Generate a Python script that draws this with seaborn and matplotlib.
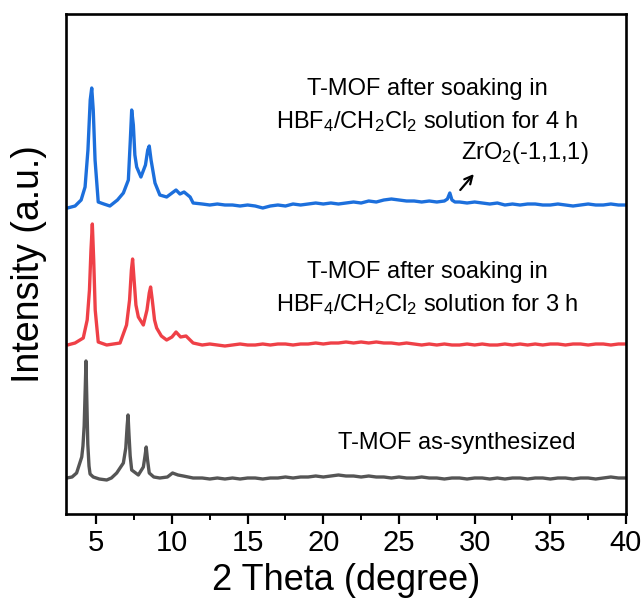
import numpy as np
import pandas as pd
import matplotlib
matplotlib.use("Agg")
import matplotlib.pyplot as plt
import seaborn as sns

# ---------------- data ----------------
# As-synthesized T-MOF (grey)
x_asyn = [3.05, 3.4, 3.7, 4.04, 4.12, 4.20, 4.27, 4.32, 4.37, 4.44, 4.52, 4.59, 4.8, 5.2, 5.69,
          6.0, 6.35, 6.79, 6.95, 7.04, 7.10, 7.16, 7.24, 7.34, 7.78, 8.11, 8.22, 8.30, 8.38, 8.50,
          8.8, 9.2, 9.7, 10.04, 10.4, 10.75, 11.4,
          12.0, 12.5, 13.0, 13.5, 14.0, 14.5, 15.0, 15.5, 16.0, 16.5, 17.0, 17.5, 18.0, 18.5,
          19.0, 19.5, 20.0, 20.5, 21.0, 21.5, 22.0, 22.5, 23.0, 23.5, 24.0, 24.5, 25.0, 25.5,
          26.0, 26.5, 27.0, 27.5, 28.0, 28.5, 29.0, 29.5, 30.0, 30.5, 31.0, 31.5, 32.0, 32.5,
          33.0, 33.5, 34.0, 34.5, 35.0, 35.5, 36.0, 36.5, 37.0, 37.5, 38.0, 38.5, 39.0, 39.5, 40.0]
y_asyn = [36, 37, 41, 57, 68, 88, 125, 153, 118, 70, 48, 40, 37, 35, 34,
          36, 41, 51, 66, 88, 99, 80, 58, 44, 39, 47, 58, 67, 55, 41,
          37, 36, 37, 41, 39, 38, 36,
          36, 35, 36, 35, 36, 35, 36, 36, 35, 36, 36, 37, 36, 37,
          37, 38, 37, 38, 39, 38, 38, 37, 38, 37, 37, 36, 37, 36,
          36, 37, 36, 36, 35, 36, 36, 35, 36, 36, 35, 36, 35, 36,
          36, 35, 36, 36, 35, 36, 36, 35, 36, 36, 35, 36, 37, 36, 36]

# After soaking 3 h (red)
x_3h = [3.1, 3.6, 4.14, 4.40, 4.55, 4.65, 4.74, 4.83, 4.93, 5.13, 5.69, 6.57, 7.0, 7.2, 7.32,
        7.40, 7.5, 7.62, 7.78, 8.11, 8.35, 8.50, 8.59, 8.70, 8.85, 8.99, 9.3, 9.65, 10.0, 10.27,
        10.57, 10.93, 11.4,
        12.0, 12.5, 13.0, 13.5, 14.0, 14.5, 15.0, 15.5, 16.0, 16.5, 17.0, 17.5, 18.0, 18.5,
        19.0, 19.5, 20.0, 20.5, 21.0, 21.5, 22.0, 22.5, 23.0, 23.5, 24.0, 24.5, 25.0, 25.5,
        26.0, 26.5, 27.0, 27.5, 28.0, 28.5, 29.0, 29.5, 30.0, 30.5, 31.0, 31.5, 32.0, 32.5,
        33.0, 33.5, 34.0, 34.5, 35.0, 35.5, 36.0, 36.5, 37.0, 37.5, 38.0, 38.5, 39.0, 39.5, 40.0]
y_3h = [34, 36, 41, 59, 89, 129, 155, 119, 69, 37, 34, 36, 54, 79, 109,
        120, 99, 74, 62, 54, 69, 86, 92, 79, 59, 51, 43, 39, 42, 47,
        42, 43, 36,
        34, 35, 34, 33, 34, 35, 34, 34, 35, 34, 35, 35, 34, 35,
        35, 36, 35, 36, 36, 37, 36, 37, 36, 37, 36, 36, 35, 36,
        35, 34, 35, 34, 35, 34, 34, 35, 34, 35, 34, 34, 35, 34,
        35, 34, 35, 34, 35, 35, 34, 35, 35, 34, 35, 35, 34, 35, 35]

# After soaking 4 h (blue)
x_4h = [3.1, 3.6, 4.0, 4.26, 4.45, 4.60, 4.70, 4.80, 4.92, 5.13, 5.5, 5.9, 6.4, 6.79, 7.12,
        7.25, 7.34, 7.45, 7.55, 7.67, 7.95, 8.25, 8.40, 8.50, 8.62, 8.88, 9.2, 9.65, 10.27, 10.53,
        10.8, 11.2, 11.4,
        12.0, 12.5, 13.0, 13.5, 14.0, 14.5, 15.0, 15.5, 16.0, 16.5, 17.0, 17.5, 18.0, 18.5,
        19.0, 19.5, 20.0, 20.5, 21.0, 21.5, 22.0, 22.5, 23.0, 23.5, 24.0, 24.5, 25.0, 25.5,
        26.0, 26.5, 27.0, 27.5, 28.0, 28.2, 28.36, 28.5, 28.7, 29.0, 29.5, 30.0, 30.5, 31.0,
        31.5, 32.0, 32.5, 33.0, 33.5, 34.0, 34.5, 35.0, 35.5, 36.0, 36.5, 37.0, 37.5, 38.0,
        38.5, 39.0, 39.5, 40.0]
y_4h = [31, 33, 39, 52, 89, 139, 151, 129, 79, 37, 35, 33, 39, 46, 59,
        99, 129, 114, 84, 72, 62, 74, 89, 93, 79, 56, 44, 42, 49, 45,
        47, 42, 36,
        35, 34, 35, 34, 34, 33, 34, 33, 31, 33, 34, 33, 35, 34,
        35, 36, 35, 36, 35, 36, 37, 36, 38, 37, 39, 40, 39, 38,
        38, 37, 38, 37, 38, 40, 46, 39, 37, 37, 36, 37, 36, 35,
        36, 34, 35, 34, 35, 35, 34, 34, 35, 34, 33, 34, 35, 34,
        34, 35, 34, 34]

names = ["as-synthesized", "3 h", "4 h"]
offsets = [0, 135, 275]
colors = ["#555555", "#ef4047", "#1c6fdc"]

labels_text = ["T-MOF as-synthesized",
               "T-MOF after soaking in\nHBF$_4$/CH$_2$Cl$_2$ solution for 3 h",
               "T-MOF after soaking in\nHBF$_4$/CH$_2$Cl$_2$ solution for 4 h"]
xticks = [5, 10, 15, 20, 25, 30, 35, 40]

# ---------------- style ----------------
sns.set_theme(style="ticks")
plt.rcParams["font.family"] = ["Liberation Sans", "DejaVu Sans"]
plt.rcParams["mathtext.fontset"] = "custom"
plt.rcParams["mathtext.rm"] = "Liberation Sans"
plt.rcParams["mathtext.it"] = "Liberation Sans:italic"
plt.rcParams["mathtext.bf"] = "Liberation Sans:bold"
for k in ["text.color", "axes.labelcolor", "xtick.color", "ytick.color", "axes.edgecolor"]:
    plt.rcParams[k] = "black"

frames = []
for nm, xs, ys, off in zip(names, [x_asyn, x_3h, x_4h], [y_asyn, y_3h, y_4h], offsets):
    frames.append(pd.DataFrame({"two_theta": xs,
                                "intensity": np.asarray(ys, float) + off,
                                "sample": nm}))
df = pd.concat(frames, ignore_index=True)

fig = plt.figure(figsize=(6.44, 6.01), dpi=100)
ax = fig.add_axes([66 / 644, 1 - 514 / 601, 560 / 644, 500 / 601])

sns.lineplot(data=df, x="two_theta", y="intensity", hue="sample",
             palette=dict(zip(names, colors)), estimator=None, sort=False,
             linewidth=2.4, legend=False, ax=ax)

ax.set_xlim(3, 40)
ax.set_ylim(0, 500)
ax.set_xticks(xticks)
ax.set_xticks(np.arange(7.5, 40, 5), minor=True)
ax.set_yticks([])
ax.tick_params(axis="x", which="major", direction="out", length=7, width=1.6,
               labelsize=21, pad=4, bottom=True, top=False, colors="black")
ax.tick_params(axis="x", which="minor", direction="out", length=4, width=1.4,
               bottom=True, top=False, colors="black")
for sp in ax.spines.values():
    sp.set_linewidth(1.9)
    sp.set_color("black")

ax.set_xlabel("2 Theta (degree)", fontsize=26, labelpad=4, color="black")
ax.set_ylabel("Intensity (a.u.)", fontsize=27, labelpad=14, color="black")

# annotations
ax.text(28.83, 71, labels_text[0], ha="center", va="center", fontsize=17, color="black")
ax.text(26.9, 225, labels_text[1], ha="center", va="center", fontsize=17,
        linespacing=1.45, color="black")
ax.text(26.9, 408, labels_text[2], ha="center", va="center", fontsize=17,
        linespacing=1.45, color="black")
ax.text(29.1, 361, "ZrO$_2$(-1,1,1)", ha="left", va="center", fontsize=17, color="black")
ax.annotate("", xy=(29.95, 340), xytext=(29.05, 324),
            arrowprops=dict(arrowstyle="->", lw=1.6, color="black",
                            shrinkA=0, shrinkB=0, mutation_scale=14))

fig.savefig("out.png", dpi=100)
